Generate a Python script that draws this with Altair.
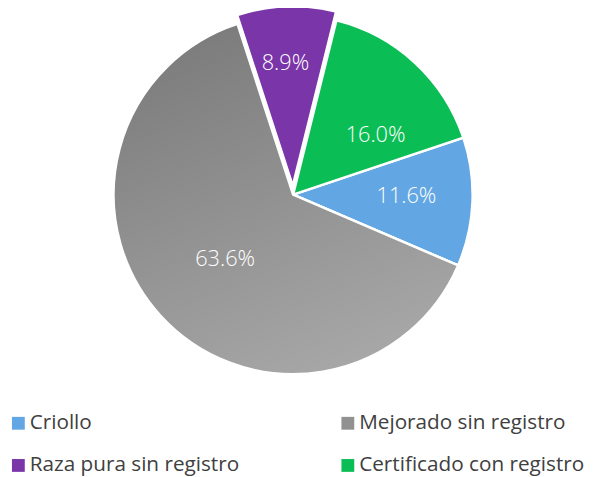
import math
import altair as alt
import pandas as pd

categories = ["Criollo", "Mejorado sin registro", "Raza pura sin registro", "Certificado con registro"]
values = [11.6, 63.6, 8.9, 16.0]
labels = ["11.6%", "63.6%", "8.9%", "16.0%"]
colors = ["#62A7E3", "#919191", "#7A35A8", "#0ABE55"]
legend_order = ["Criollo", "Raza pura sin registro", "Mejorado sin registro", "Certificado con registro"]

df = pd.DataFrame({"category": categories, "value": values, "label": labels,
                   "order": list(range(len(categories)))})
total = sum(values)
first_angle = math.radians(71.5)
CX, CY, R = 289, 186, 182
EXPLODE = 9
exploded = "Raza pura sin registro"

# exploded slice centre
i = categories.index(exploded)
mid_val = sum(values[:i]) + values[i] / 2
mid_ang = first_angle + mid_val / total * 2 * math.pi
EX = CX + EXPLODE * math.sin(mid_ang)
EY = CY - EXPLODE * math.cos(mid_ang)

theta_scale = alt.Scale(domain=[0, total], range=[first_angle, first_angle + 2 * math.pi])
color_scale = alt.Scale(domain=legend_order,
                        range=[colors[categories.index(c)] for c in legend_order])
legend = alt.Legend(orient="none", legendX=0, legendY=407, columns=2, title=None,
                    symbolType="square", symbolSize=169, symbolStrokeWidth=0,
                    labelFontSize=21, labelFont="Open Sans", labelColor="#404040",
                    labelOffset=1, rowPadding=21, columnPadding=99, labelLimit=400)

base = alt.Chart(df).transform_window(
    cum="sum(value)", sort=[alt.SortField("order")], frame=[None, 0]
).transform_calculate(
    start="datum.cum - datum.value", mid="datum.cum - datum.value / 2"
)

arc_kw = dict(radius=R, stroke="white", strokeWidth=2.5)

arcs = base.transform_filter(alt.datum.category != exploded).mark_arc(**arc_kw).encode(
    theta=alt.Theta("start:Q", scale=theta_scale),
    theta2="cum:Q",
    color=alt.Color("category:N", scale=color_scale, legend=legend),
    x=alt.value(CX), y=alt.value(CY),
)

gray = base.transform_filter(alt.datum.category == "Mejorado sin registro").mark_arc(
    fill=alt.LinearGradient(gradient="linear",
                            stops=[alt.GradientStop(color="#7c7c7c", offset=0),
                                   alt.GradientStop(color="#a8a8a8", offset=1)],
                            x1=0.3, y1=0, x2=0.7, y2=1),
    **arc_kw
).encode(
    theta=alt.Theta("start:Q", scale=theta_scale),
    theta2="cum:Q",
    x=alt.value(CX), y=alt.value(CY),
)

purple = base.transform_filter(alt.datum.category == exploded).mark_arc(**arc_kw).encode(
    theta=alt.Theta("start:Q", scale=theta_scale),
    theta2="cum:Q",
    color=alt.Color("category:N", scale=color_scale, legend=legend),
    x=alt.value(EX), y=alt.value(EY),
)

label_style = {
    "Criollo": dict(radius=115, dx=0, dy=-3, cx=CX, cy=CY),
    "Mejorado sin registro": dict(radius=96, dx=2, dy=1, cx=CX, cy=CY),
    "Raza pura sin registro": dict(radius=124, dx=-3, dy=0, cx=EX, cy=EY),
    "Certificado con registro": dict(radius=104, dx=13, dy=16, cx=CX, cy=CY),
}

texts = []
for cat, st in label_style.items():
    texts.append(
        base.transform_filter(alt.datum.category == cat).mark_text(
            radius=st["radius"], dx=st["dx"], dy=st["dy"], fontSize=22,
            font="Open Sans", fontWeight=300, color="white",
            align="center", baseline="middle"
        ).encode(
            theta=alt.Theta("mid:Q", scale=theta_scale),
            text="label:N",
            x=alt.value(st["cx"]), y=alt.value(st["cy"]),
        )
    )

chart = alt.layer(arcs, gray, purple, *texts).properties(
    width=592, height=469, padding=0, autosize="none"
).configure_view(stroke=None)

chart.save("out.html", embed_options={"renderer": "svg", "actions": False})
